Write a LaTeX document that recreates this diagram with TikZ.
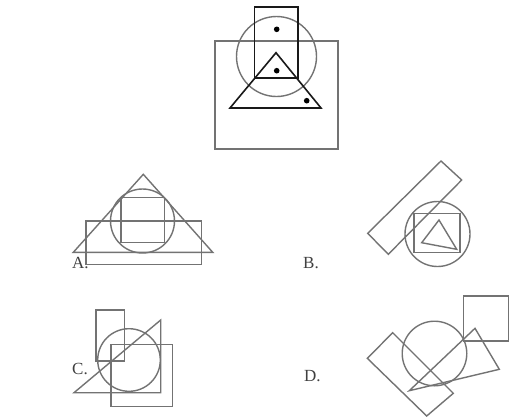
\documentclass[tikz,border=0pt]{standalone}
\usepackage{fontspec}
\setmainfont{Liberation Serif}
\begin{document}
\begin{tikzpicture}[x=1pt,y=-1pt,
  gline/.style={draw=black!55, line width=1.4pt},
  bline/.style={draw=black!90, line width=1.6pt},
  dotm/.style={fill=black},
  lab/.style={font=\fontsize{17}{19}\selectfont, text=black!75, inner sep=0pt, anchor=base west}]
\useasboundingbox[fill=white] (0,0) rectangle (509,416);
% top figure
\draw[gline] (215,41) rectangle (338,149);
\draw[gline] (276.5,56.5) circle (40);
\draw[bline] (254.5,7) rectangle (298,78);
\draw[bline] (276,52.7) -- (230,108) -- (321,108) -- cycle;
\draw[bline] (255,78) -- (297,78);
\fill[dotm] (276.7,29.3) circle (2.8);
\fill[dotm] (276.7,70.7) circle (2.8);
\fill[dotm] (306.7,100.7) circle (2.8);
% A
\node[lab] (la) at (72,268) {A.};
\draw[gline] (143.3,174.3) -- (73.3,252.3) -- (212.7,252.3) -- cycle;
\draw[gline] (142.5,221) circle (32);
\draw[gline] (121,197.3) rectangle (164.3,242.7);
\draw[gline] (86,221) rectangle (201.7,264.3);
% B
\node[lab] (lb) at (303,268) {B.};
\draw[gline] (367.7,233.3) -- (441,161) -- (461.7,180) -- (388.3,254.3) -- cycle;
\draw[gline] (437.5,234) circle (32.5);
\draw[gline] (414,213.3) rectangle (460,252.7);
\draw[gline] (421.7,242.7) -- (439,220) -- (456.7,249.3) -- cycle;
% C
\node[lab] (lc) at (72,374) {C.};
\draw[gline] (96,310) rectangle (124.3,361);
\draw[gline] (129,360) circle (31.3);
\draw[gline] (111,344.3) rectangle (172.7,406.7);
\draw[gline] (74,392.7) -- (160.7,320) -- (160.7,392.7) -- cycle;
% D
\node[lab] (ld) at (304,381) {D.};
\draw[gline] (463.3,296) rectangle (508.3,341);
\draw[gline] (434.5,353.5) circle (32.3);
\draw[gline] (409.3,390.7) -- (475,328.3) -- (499.3,369.3) -- cycle;
\draw[gline] (367.3,358.3) -- (392.7,332.7) -- (453.3,393.3) -- (426.7,416) -- cycle;
\end{tikzpicture}
\end{document}
